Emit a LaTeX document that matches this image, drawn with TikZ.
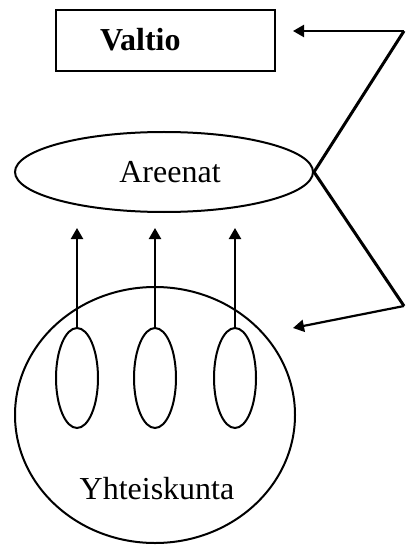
\documentclass[tikz,border=0pt]{standalone}
\usepackage{fontspec}
\setmainfont{Liberation Serif}
\usetikzlibrary{arrows.meta,shapes.geometric}
\begin{document}
\begin{tikzpicture}[x=1pt,y=-1pt,
  lbl/.style={font=\fontsize{32}{38}\selectfont},
  boxnode/.style={draw,line width=1.5pt,rectangle,inner xsep=44pt,text width=131pt,align=left,minimum height=61pt,font=\fontsize{32}{38}\selectfont\bfseries},
  ovalnode/.style={draw,line width=2pt,ellipse,inner sep=0pt},
  conn/.style={line width=3pt,line join=miter},
  arr/.style={line width=2.2pt,-{Triangle[length=11pt,width=12pt]}},
  arrl/.style={line width=2.2pt,{Triangle[length=11pt,width=12pt]}-}
]
\useasboundingbox (0,0) rectangle (408,545);
\node[boxnode] (valtio) at (165.5,40.5) {\raisebox{3pt}{Valtio}};
\node[ovalnode,minimum width=298pt,minimum height=80pt,lbl] (areenat) at (164,172) {\hspace*{12pt}Areenat};
\node[ovalnode,minimum width=280pt,minimum height=256pt] (yht) at (155,415) {};
\node[lbl] (ytext) at (157,489) {Yhteiskunta};
\node[ovalnode,minimum width=42pt,minimum height=100pt] (e1) at (77,378) {};
\node[ovalnode,minimum width=42pt,minimum height=100pt] (e2) at (155,378) {};
\node[ovalnode,minimum width=42pt,minimum height=100pt] (e3) at (235,378) {};
\coordinate (t1) at (77,228);
\coordinate (t2) at (155,228);
\coordinate (t3) at (235,228);
\draw[arr] (e1.north) -- (t1);
\draw[arr] (e2.north) -- (t2);
\draw[arr] (e3.north) -- (t3);
\coordinate (tr) at (404,31);
\coordinate (br) at (404,306);
\coordinate (vt) at (293,31);
\coordinate (st) at (293,328);
\draw[conn] (areenat.east) -- (tr);
\draw[conn] (areenat.east) -- (br);
\draw[arrl] (vt) -- (tr);
\draw[arrl] (st) -- (br);
\end{tikzpicture}
\end{document}
